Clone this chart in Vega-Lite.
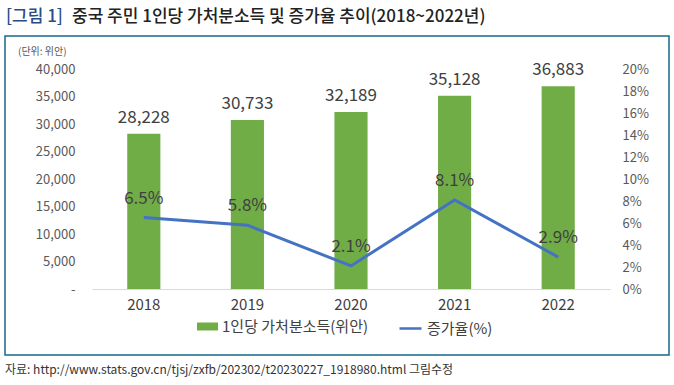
{
  "$schema": "https://vega.github.io/schema/vega-lite/v6.json",
  "width": 518,
  "height": 220,
  "autosize": {"type": "none"},
  "padding": {"left": 92, "top": 69, "right": 64, "bottom": 96},
  "background": "white",
  "config": {
    "view": {"stroke": null},
    "font": "Noto Sans CJK KR",
    "text": {"font": "Noto Sans CJK KR"}
  },
  "datasets": {
    "main": [
      {"year": "2018", "income": 28228, "growth": 0.065},
      {"year": "2019", "income": 30733, "growth": 0.058},
      {"year": "2020", "income": 32189, "growth": 0.021},
      {"year": "2021", "income": 35128, "growth": 0.081},
      {"year": "2022", "income": 36883, "growth": 0.029}
    ],
    "one": [{"k": 1}]
  },
  "layer": [
    {
      "data": {"name": "one"},
      "mark": {"type": "rect", "fill": null, "stroke": "#17698c", "strokeWidth": 1.5},
      "encoding": {
        "x": {"value": -87},
        "x2": {"value": 577},
        "y": {"value": -33},
        "y2": {"value": 286}
      }
    },
    {
      "data": {"name": "one"},
      "mark": {"type": "text", "align": "left", "baseline": "middle", "fontSize": 17, "fontWeight": 500, "color": "#2a4d85"},
      "encoding": {"x": {"value": -86}, "y": {"value": -52}, "text": {"value": "[그림 1]"}}
    },
    {
      "data": {"name": "one"},
      "mark": {"type": "text", "align": "left", "baseline": "middle", "fontSize": 17, "fontWeight": 500, "color": "#222222"},
      "encoding": {"x": {"value": -20}, "y": {"value": -52}, "text": {"value": "중국 주민 1인당 가처분소득 및 증가율 추이(2018~2022년)"}}
    },
    {
      "data": {"name": "one"},
      "mark": {"type": "text", "align": "left", "baseline": "middle", "fontSize": 10, "color": "#595959"},
      "encoding": {"x": {"value": -74}, "y": {"value": -17}, "text": {"value": "(단위: 위안)"}}
    },
    {
      "data": {"name": "one"},
      "mark": {"type": "text", "align": "left", "baseline": "middle", "fontSize": 12, "color": "#333333", "font": "Liberation Sans Narrow, Noto Sans CJK KR"},
      "encoding": {"x": {"value": -87}, "y": {"value": 301}, "text": {"value": "자료: http://www.stats.gov.cn/tjsj/zxfb/202302/t20230227_1918980.html  그림수정"}}
    },
    {
      "data": {"name": "main"},
      "encoding": {
        "x": {
          "field": "year", "type": "ordinal",
          "scale": {"paddingInner": 0, "paddingOuter": 0},
          "axis": {
            "title": null, "labelAngle": 0, "ticks": false,
            "domainColor": "#d9d9d9", "domainWidth": 1,
            "labelFontSize": 15, "labelColor": "#404040", "labelPadding": 8
          }
        },
        "y": {
          "field": "income", "type": "quantitative",
          "scale": {"domain": [0, 40000]},
          "axis": {
            "orient": "left", "title": null, "grid": false, "domain": false, "ticks": false,
            "values": [0, 5000, 10000, 15000, 20000, 25000, 30000, 35000, 40000],
            "labelExpr": "datum.value == 0 ? '-' : format(datum.value, ',')",
            "labelFontSize": 13, "labelColor": "#595959", "labelPadding": 17
          }
        }
      },
      "layer": [
        {
          "mark": {"type": "bar", "width": {"band": 0.32}},
          "encoding": {
            "fill": {
              "datum": "1인당 가처분소득(위안)",
              "scale": {"range": ["#70ad47"]},
              "legend": {
                "title": null, "orient": "none", "legendX": 105, "legendY": 247,
                "padding": 0, "labelFontSize": 15, "labelColor": "#404040", "labelOffset": 4,
                "symbolType": "M-1,-0.38H1V0.38H-1Z", "symbolSize": 441, "symbolStrokeWidth": 0
              }
            }
          }
        },
        {
          "mark": {"type": "text", "baseline": "middle", "dy": -16, "fontSize": 17, "color": "#404040"},
          "encoding": {"text": {"field": "income", "type": "quantitative", "format": ","}}
        }
      ]
    },
    {
      "data": {"name": "main"},
      "encoding": {
        "x": {"field": "year", "type": "ordinal"},
        "y": {
          "field": "growth", "type": "quantitative",
          "scale": {"domain": [0, 0.2]},
          "axis": {
            "orient": "right", "title": null, "grid": false, "domain": false, "ticks": false,
            "values": [0, 0.02, 0.04, 0.06, 0.08, 0.1, 0.12, 0.14, 0.16, 0.18, 0.2],
            "format": ".0%",
            "labelFontSize": 13, "labelColor": "#595959", "labelPadding": 12
          }
        }
      },
      "layer": [
        {
          "mark": {"type": "line", "strokeWidth": 3},
          "encoding": {
            "stroke": {
              "datum": "증가율(%)",
              "scale": {"range": ["#4472c4"]},
              "legend": {
                "title": null, "orient": "none", "legendX": 306, "legendY": 247,
                "padding": 0, "labelFontSize": 15, "labelColor": "#404040", "labelOffset": 4,
                "symbolType": "stroke", "symbolSize": 484, "symbolStrokeWidth": 2.5
              }
            }
          }
        },
        {
          "mark": {"type": "text", "baseline": "middle", "dy": -19, "fontSize": 17, "color": "#404040"},
          "encoding": {"text": {"field": "growth", "type": "quantitative", "format": ".1%"}}
        }
      ]
    }
  ],
  "resolve": {"scale": {"y": "independent"}}
}
